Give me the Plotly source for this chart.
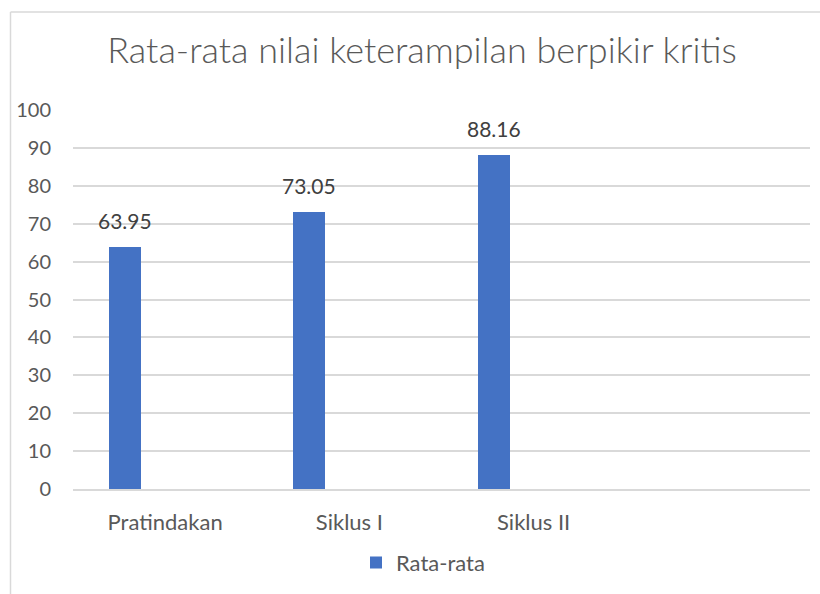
import plotly.graph_objects as go

categories = ["Pratindakan", "Siklus I", "Siklus II"]
values = [63.95, 73.05, 88.16]
value_labels = ["63.95", "73.05", "88.16"]
series_name = "Rata-rata"
title_text = "Rata-rata nilai keterampilan berpikir kritis"
y_ticks = [0, 10, 20, 30, 40, 50, 60, 70, 80, 90, 100]

W, H = 820, 594
L, R, T, B = 73, 10, 110, 103
pw, ph = W - L - R, H - T - B

FONT = "Lato"
GRAY = "#595959"
BAR = "#4472C4"
GRID = "#D9D9D9"

bar_w = 0.174
bar_off = -0.304
shift_px = (bar_off + bar_w / 2) * pw / 4.0

fig = go.Figure()
fig.add_trace(go.Bar(
    x=categories, y=values, name=series_name,
    marker=dict(color=BAR, line=dict(width=0)),
    width=bar_w, offset=bar_off,
    showlegend=True,
))

for c, v, t in zip(categories, values, value_labels):
    fig.add_annotation(
        x=c, y=v, text=t, showarrow=False,
        xshift=shift_px, yshift=12, yanchor="bottom",
        font=dict(family=FONT, size=21, color="#404040"),
    )

def px2paper_x(px):
    return (px - L) / pw

def py2paper_y(py):
    return (H - B - py) / ph

# chart border (left and top edges visible)
fig.add_shape(type="line", xref="paper", yref="paper",
              x0=px2paper_x(10.5), x1=px2paper_x(830), y0=py2paper_y(11.5), y1=py2paper_y(11.5),
              line=dict(color=GRID, width=1.5))
fig.add_shape(type="line", xref="paper", yref="paper",
              x0=px2paper_x(10.5), x1=px2paper_x(10.5), y0=py2paper_y(11.5), y1=py2paper_y(600),
              line=dict(color=GRID, width=1.5))

fig.update_layout(
    width=W, height=H,
    margin=dict(l=L, r=R, t=T, b=B),
    paper_bgcolor="white", plot_bgcolor="white",
    title=dict(text=title_text, x=422 / W, xanchor="center",
               y=1 - 50 / H, yanchor="middle", yref="container",
               font=dict(family=FONT, size=36, color=GRAY, weight=300)),
    font=dict(family=FONT, color=GRAY),
    bargap=0,
    legend=dict(orientation="h", x=px2paper_x(423), xanchor="center",
                y=py2paper_y(565), yanchor="middle",
                font=dict(family=FONT, size=22, color=GRAY),
                itemwidth=30, bgcolor="rgba(0,0,0,0)"),
    xaxis=dict(type="category", categoryorder="array", categoryarray=categories,
               range=[-0.5, 3.5], showgrid=False, zeroline=False,
               showline=True, linecolor=GRID, linewidth=1.5,
               ticks="", tickfont=dict(family=FONT, size=22, color=GRAY),
               ticklabelstandoff=13),
    yaxis=dict(range=[0, 100], tickvals=y_ticks, showgrid=True, gridcolor=GRID,
               gridwidth=1.5, zeroline=False, showline=False, ticks="",
               tickfont=dict(family=FONT, size=20, color=GRAY),
               ticklabelstandoff=21),
)

fig.write_html("out.html", config={"displayModeBar": False},
               post_script="document.body.style.margin='0';")
